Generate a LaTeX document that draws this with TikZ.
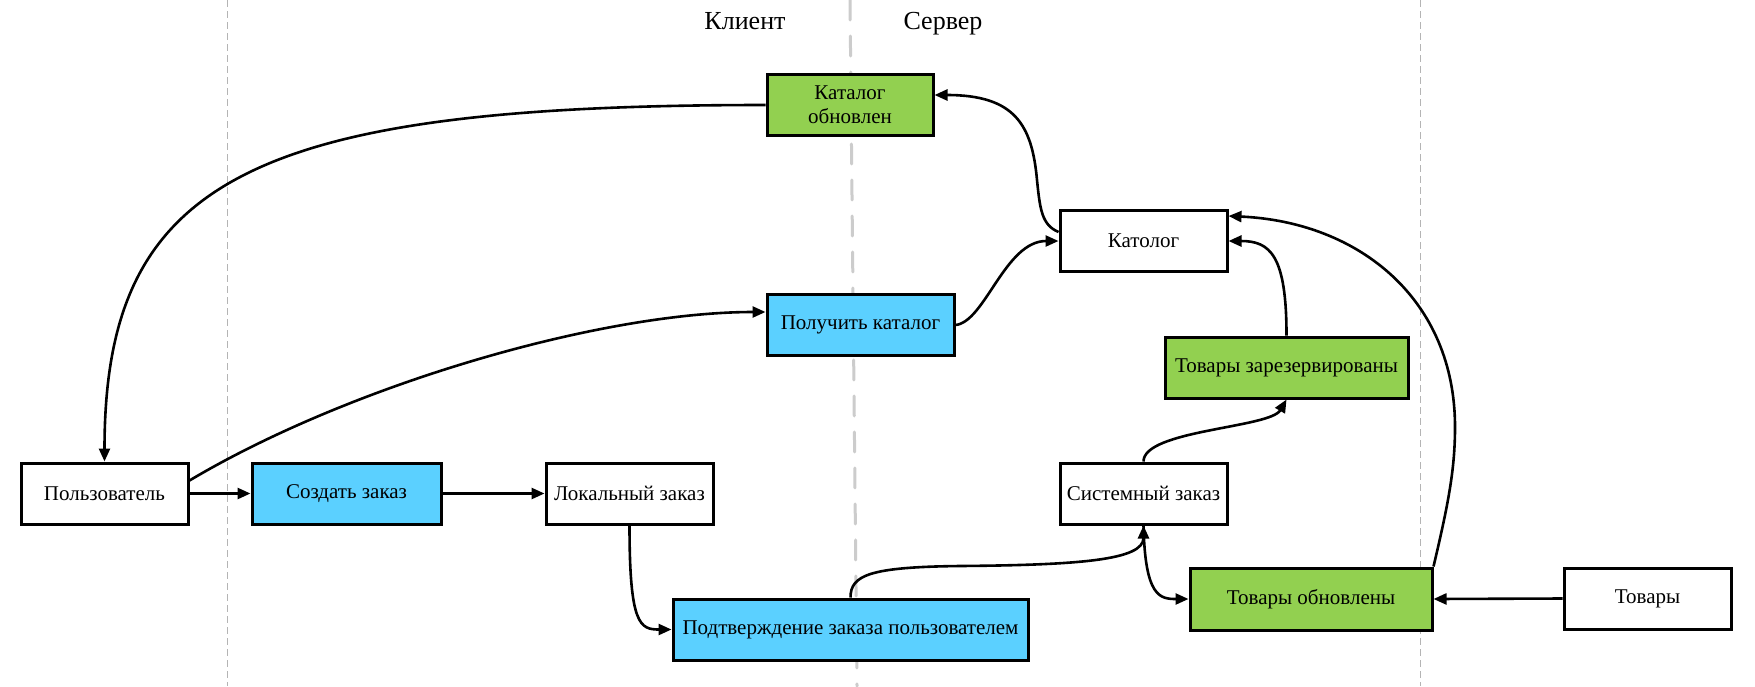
\documentclass[tikz,border=0pt]{standalone}
\usepackage{fontspec}
\setmainfont{Liberation Serif}
\usetikzlibrary{arrows.meta,calc}
\definecolor{boxblue}{HTML}{5BD0FF}
\definecolor{boxgreen}{HTML}{92D050}
\definecolor{lanegray}{HTML}{B4B4B4}
\definecolor{midgray}{HTML}{CCCCCC}
\begin{document}
\begin{tikzpicture}[x=1pt,y=-1pt,
  box/.style={draw=black,line width=3pt,minimum height=61pt,inner sep=2pt,
    font=\fontsize{21}{24}\selectfont,align=center},
  whitebox/.style={box,fill=white},
  bluebox/.style={box,fill=boxblue},
  greenbox/.style={box,fill=boxgreen},
  conn/.style={line width=2.6pt,-{Triangle[length=13pt,width=11pt]}},
  title/.style={font=\fontsize{26}{30}\selectfont,anchor=base},
  thinlane/.style={draw=lanegray,line width=1pt,dash pattern=on 7pt off 4pt},
  midlane/.style={draw=midgray,line width=3pt,line cap=round,dash pattern=on 20pt off 16pt}
]
\useasboundingbox (0,0) rectangle (1755,686);
\fill[white] (0,0) rectangle (1755,686);

% lanes
\coordinate (l1t) at (227,0);  \coordinate (l1b) at (227,686);
\coordinate (l2t) at (850,0);  \coordinate (l2b) at (857,686);
\coordinate (l3t) at (1420,0); \coordinate (l3b) at (1420,686);
\draw[thinlane] (l1t) -- (l1b);
\draw[thinlane] (l3t) -- (l3b);
\draw[midlane] (l2t) -- (l2b);

% titles
\node[title] (client) at (745,29) {Клиент};
\node[title] (server) at (943,29) {Сервер};

% boxes
\node[greenbox,minimum width=166pt] (kob) at (850,105) {Каталог\\обновлен};
\node[whitebox,minimum width=167pt] (kat) at (1143.5,241) {Католог};
\node[bluebox,minimum width=187pt] (pk) at (860.5,325) {Получить каталог};
\node[greenbox,minimum width=243pt] (tz) at (1286.5,367.5) {Товары зарезервированы};
\node[whitebox,minimum width=167pt] (pol) at (104.5,493.5) {Пользователь};
\node[bluebox,minimum width=189pt] (sz) at (346.5,493.5) {Создать заказ};
\node[whitebox,minimum width=167pt] (lz) at (629.5,493.5) {Локальный заказ};
\node[whitebox,minimum width=167pt] (sys) at (1143.5,493.5) {Системный заказ};
\node[bluebox,minimum width=355pt] (pod) at (850.5,629.5) {Подтверждение заказа пользователем};
\node[greenbox,minimum width=242pt,minimum height=62pt] (to) at (1311,599) {Товары обновлены};
\node[whitebox,minimum width=167pt] (tov) at (1647.5,598.5) {Товары};

% connectors
\draw[conn] (kob.west) .. controls (250,105) and (104.5,180) .. (pol.north);
\draw[conn] ($(pol.east)+(0,-13)$) .. controls (350,385) and (600,312) .. ($(pk.west)+(0,-13)$);
\draw[conn] (pol.east) -- (sz.west);
\draw[conn] (sz.east) -- (lz.west);
\draw[conn] (pk.east) .. controls (985,322) and (1005,241) .. (kat.west);
\draw[conn] ($(kat.west)+(0,-9)$) .. controls (1042,225) and (1040,210) .. (1037,180)
  .. controls (1032,125) and (1015,95) .. ($(kob.east)+(0,-10)$);
\draw[conn] (tz.north) .. controls (1286.5,255) and (1270,241) .. (kat.east);
\draw[conn] (to.north east) .. controls (1448,505) and (1455,470) .. (1455,427)
  .. controls (1455,300) and (1360,222) .. ($(kat.east)+(0,-25)$);
\draw[conn] (sys.north) .. controls (1143.5,430) and (1270,428) .. (tz.south);
\draw[conn] (lz.south) .. controls (629.5,625) and (640,629.5) .. (pod.west);
\draw[conn] (pod.north) .. controls (850.5,575) and (870,567) .. (960,566)
  .. controls (1080,565) and (1143.5,560) .. (sys.south);
\draw[conn] (sys.south) .. controls (1145,597) and (1160,599) .. (to.west);
\draw[conn] (tov.west) -- (to.east);
\end{tikzpicture}
\end{document}
